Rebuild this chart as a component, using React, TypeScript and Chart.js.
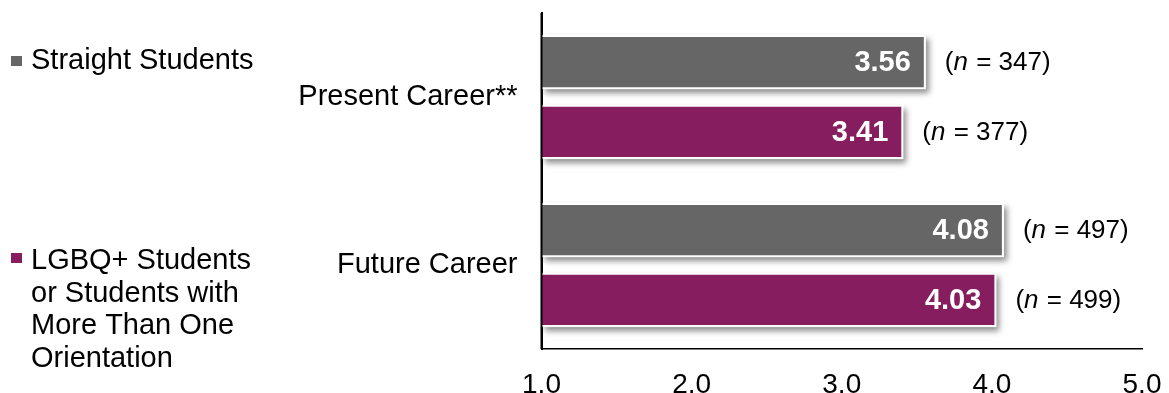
import React, { useEffect, useRef } from "react";
import { Chart, registerables } from "chart.js";

Chart.register(...registerables);

const categories = ["Present Career**", "Future Career"];
const straightValues = [3.56, 4.08];
const lgbqValues = [3.41, 4.03];
const straightN = [347, 497];
const lgbqN = [377, 499];
const xTickValues = [1, 2, 3, 4, 5];
const seriesNames = ["Straight Students", "LGBQ+ Students or Students with More Than One Orientation"];
const legendLines = [["Straight Students"], ["LGBQ+ Students", "or Students with", "More Than One", "Orientation"]];
const seriesColors = ["#666666", "#851D5E"];

const FONT = "'Liberation Sans', Arial, Helvetica, sans-serif";

export default function App() {
  const canvasRef = useRef<HTMLCanvasElement | null>(null);

  useEffect(() => {
    document.body.style.margin = "0";
    const canvas = canvasRef.current;
    if (!canvas) return;
    const nLists = [straightN, lgbqN];

    const shadowPlugin = {
      id: "barShadow",
      beforeDatasetsDraw(chart: any) {
        const ctx = chart.ctx;
        ctx.save();
        chart.data.datasets.forEach((_: any, di: number) => {
          const meta = chart.getDatasetMeta(di);
          meta.data.forEach((el: any) => {
            const p = el.getProps(["x", "y", "base", "height"], true);
            const left = Math.min(p.x, p.base);
            const right = Math.max(p.x, p.base);
            ctx.shadowColor = "rgba(0,0,0,0.45)";
            ctx.shadowBlur = 6;
            ctx.shadowOffsetX = 3;
            ctx.shadowOffsetY = 4;
            ctx.fillStyle = "#ffffff";
            ctx.fillRect(left, p.y - p.height / 2, right - left, p.height);
          });
        });
        ctx.restore();
      },
      afterDatasetsDraw(chart: any) {
        const ctx = chart.ctx;
        ctx.save();
        // redraw the vertical axis line on top of the bars
        const ca = chart.chartArea;
        ctx.strokeStyle = "#000000";
        ctx.lineWidth = 2;
        ctx.beginPath();
        ctx.moveTo(ca.left, ca.top);
        ctx.lineTo(ca.left, ca.bottom);
        ctx.stroke();
        chart.data.datasets.forEach((ds: any, di: number) => {
          const meta = chart.getDatasetMeta(di);
          meta.data.forEach((el: any, i: number) => {
            const p = el.getProps(["x", "y"], true);
            const v = ds.data[i] as number;
            ctx.font = `bold 29px ${FONT}`;
            ctx.fillStyle = "#ffffff";
            ctx.textAlign = "right";
            ctx.textBaseline = "middle";
            ctx.fillText(v.toFixed(2), p.x - 15, p.y + 1);
            let x = p.x + 19;
            const y = p.y + 1;
            ctx.fillStyle = "#000000";
            ctx.textAlign = "left";
            const parts: [string, boolean][] = [["(", false], ["n", true], [` = ${nLists[di][i]})`, false]];
            parts.forEach(([t, it]) => {
              ctx.font = `${it ? "italic " : ""}26px ${FONT}`;
              ctx.fillText(t, x, y);
              x += ctx.measureText(t).width + (it ? 1 : 0);
            });
          });
        });
        ctx.restore();
      },
      afterDraw(chart: any) {
        const ctx = chart.ctx;
        ctx.save();
        const squares = [61, 258];
        const baselines = [[69], [269, 301.5, 334, 366.5]];
        legendLines.forEach((lines, si) => {
          ctx.fillStyle = seriesColors[si];
          ctx.fillRect(11, squares[si] - 5, 11, 10);
          ctx.fillStyle = "#000000";
          ctx.font = `29px ${FONT}`;
          ctx.textAlign = "left";
          ctx.textBaseline = "alphabetic";
          lines.forEach((ln, li) => {
            ctx.fillText(ln, 31, baselines[si][li]);
          });
        });
        ctx.restore();
      },
    };

    const chart = new Chart(canvas, {
      type: "bar",
      data: {
        labels: categories,
        datasets: [
          {
            label: seriesNames[0],
            data: straightValues,
            backgroundColor: seriesColors[0],
            borderColor: "#ffffff",
            borderWidth: 2,
            borderSkipped: "start",
            base: 1,
          } as any,
          {
            label: seriesNames[1],
            data: lgbqValues,
            backgroundColor: seriesColors[1],
            borderColor: "#ffffff",
            borderWidth: 2,
            borderSkipped: "start",
            base: 1,
          } as any,
        ],
      },
      options: {
        animation: false,
        responsive: false,
        indexAxis: "y",
        layout: { padding: { top: 13, right: 27, left: 0, bottom: 0 } },
        datasets: { bar: { categoryPercentage: 0.833, barPercentage: 0.775 } },
        plugins: { legend: { display: false }, tooltip: { enabled: false } },
        scales: {
          x: {
            min: 1,
            max: 5,
            afterFit: (s: any) => {
              s.height = 44;
              s.paddingLeft = 0;
              s.paddingRight = 0;
              s.paddingTop = 0;
              s.paddingBottom = 0;
            },
            afterBuildTicks: (s: any) => {
              s.ticks = xTickValues.map((v) => ({ value: v }));
            },
            grid: { display: false, drawTicks: false },
            border: { display: true, color: "#000000", width: 1.5 },
            ticks: {
              padding: 19,
              color: "#000000",
              font: { family: FONT, size: 28 },
              callback: (v: any) => Number(v).toFixed(1),
            },
          },
          y: {
            afterFit: (s: any) => {
              s.width = 541.5;
              s.paddingLeft = 0;
              s.paddingRight = 0;
              s.paddingTop = 0;
              s.paddingBottom = 0;
            },
            grid: { display: false, drawTicks: false },
            border: { display: true, color: "#000000", width: 2 },
            ticks: {
              padding: 24,
              color: "#000000",
              font: { family: FONT, size: 29 },
            },
          },
        },
      } as any,
      plugins: [shadowPlugin],
    });

    return () => {
      chart.destroy();
    };
  }, []);

  return (
    <div style={{ width: 1169, height: 393, position: "relative", background: "#ffffff" }}>
      <canvas ref={canvasRef} width={1169} height={393} style={{ display: "block", width: 1169, height: 393 }} />
    </div>
  );
}
